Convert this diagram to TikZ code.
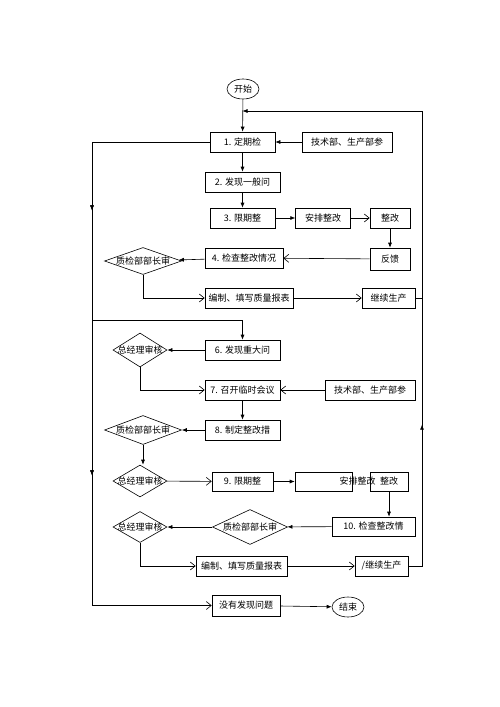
\documentclass[tikz,border=0pt]{standalone}
\usepackage{fontspec}
\newfontfamily\cjk{Noto Sans CJK SC}
\usetikzlibrary{arrows.meta,positioning,shapes.geometric,decorations.markings}
\tikzset{
    %Define standard arrow tip
    >={Latex[length=5pt,width=4pt]},
    %Define style for boxes
    box/.style={
           rectangle,
           draw=black, semithick,
           minimum height=20pt,
           inner sep=1pt},
    term/.style={
           ellipse,
           draw=black, semithick,
           minimum width=32pt,
           minimum height=20pt,
           inner sep=0pt},
    check/.style={
           diamond,
           draw=black, semithick,
           inner sep=0pt},
    % Define arrow style
    arr/.style={
           ->,
           semithick},
    openarr/.style={
           -{Straight Barb[length=5pt,width=8pt]},
           semithick},
    line/.style={
           semithick},
    midarr/.style={
           postaction={decorate},
           decoration={markings,
               mark=at position #1 with {\arrow{>}}}}
}

\begin{document}
\begin{tikzpicture}[x=1pt,y=-1pt,font=\cjk\fontsize{9}{10}\selectfont]
  \useasboundingbox (0,0) rectangle (500,707);
  % first round: general problems
  \node[term] (start) at (243,89) {开始};
  \node[box, minimum width=65pt] (chk1) at (242.5,142) {1. 定期检};
  \node[box, minimum width=90pt] (tech1) at (347,142) {技术部、生产部参};
  \node[box, minimum width=75pt] (find1) at (242.5,182) {2. 发现一般问};
  \node[box, minimum width=65pt] (lim1) at (242.5,218) {3. 限期整};
  \node[box, minimum width=55pt, right=20pt of lim1] (plan1) {安排整改};
  \node[box, minimum width=40pt] (fix1) at (390,218) {整改};
  \node[box, minimum width=40pt, minimum height=22pt] (back1) at (390,259) {反馈};
  \node[box, minimum width=78pt] (insp1) at (244,258) {4. 检查整改情况};
  \node[check, minimum width=77pt, minimum height=27pt,
        label=center:质检部部长审] (qa1) at (143,261) {};
  \node[box, minimum width=88pt] (rep1) at (249,298) {编制、填写质量报表};
  \node[box, minimum width=53pt] (go1) at (388.5,298) {继续生产};

  % second round: major problems
  \node[box, minimum width=75pt] (find2) at (242.5,350) {6. 发现重大问};
  \node[check, minimum width=54pt, minimum height=34pt,
        label=center:总经理审核] (gm1) at (140,350) {};
  \node[box, minimum width=75pt] (meet) at (242.5,390) {7. 召开临时会议};
  \node[box, minimum width=90pt] (tech2) at (370,390) {技术部、生产部参};
  \node[box, minimum width=75pt] (meas) at (242.5,430) {8. 制定整改措};
  \node[check, minimum width=77pt, minimum height=29pt,
        label=center:质检部部长审] (qa2) at (143,430) {};
  \node[check, minimum width=54pt, minimum height=32pt,
        label=center:总经理审核] (gm2) at (140,481) {};
  \node[box, minimum width=61pt, minimum height=19pt] (lim2) at (242.5,481.5) {9. 限期整};
  \node[box, minimum width=57pt, minimum height=19pt,
        label={[xshift=34pt]center:安排整改}] (plan2) at (323.5,481.5) {};
  \node[box, minimum width=38pt, minimum height=19pt] (fix2) at (389,481.5) {整改};
  \node[box, minimum width=83pt, minimum height=19pt] (insp2) at (373.5,526.5) {10. 检查整改情};
  \node[check, minimum width=75pt, minimum height=35pt,
        label=center:质检部部长审] (qa3) at (250,527) {};
  \node[check, minimum width=54pt, minimum height=31pt,
        label=center:总经理审核] (gm3) at (140,527) {};
  \node[box, minimum width=91pt] (rep2) at (241.5,566) {编制、填写质量报表};
  \node[box, minimum width=53pt] (go2) at (381.5,566) {/继续生产};

  % no problem found
  \node[box, minimum width=68pt, minimum height=21pt] (none) at (246,605.5) {没有发现问题};
  \node[term] (stop) at (348,607) {结束};

  % turning points
  \coordinate (join) at (242.5,111);
  \coordinate (rtop) at (422,111);
  \coordinate (rbot) at (422,566);
  \coordinate (lx) at (92,142);
  \coordinate (lsplit) at (92,320);

  % connectors, first round
  \draw[arr] (start) -- (chk1);
  \draw[arr] (tech1) -- (chk1);
  \draw[arr] (chk1) -- (find1);
  \draw[arr] (find1) -- (lim1);
  \draw[arr] (lim1) -- (plan1);
  \draw[openarr] (plan1) -- (fix1);
  \draw[arr] (fix1) -- (back1);
  \draw[openarr] (back1) -- (insp1);
  \draw[arr] (insp1) -- (qa1);
  \draw[openarr] (qa1.south) |- (rep1.west);
  \draw[openarr] (rep1) -- (go1);
  \draw[line] (go1.east) -- (go1.east -| rtop);

  % connectors, second round
  \draw[arr] (lsplit) -| (find2.north);
  \draw[arr] (find2) -- (gm1);
  \draw[openarr] (gm1.south) |- (meet.west);
  \draw[openarr] (tech2) -- (meet);
  \draw[arr] (meet) -- (meas);
  \draw[arr] (meas) -- (qa2);
  \draw[arr] (qa2.south) -- (qa2.south |- gm2.north);
  \draw[openarr] (gm2) -- (lim2);
  \draw[arr] (lim2) -- (plan2);
  \draw[arr] (fix2) -- (insp2.north -| fix2);
  \draw[arr] (insp2) -- (qa3);
  \draw[arr] (qa3) -- (gm3);
  \draw[openarr] (gm3.south) |- (rep2.west);
  \draw[openarr] (rep2) -- (go2);

  % loop back and left trunk
  \draw[arr, midarr=155pt] (go2.east) -- (rbot) -- (rtop) -- (join);
  \draw[openarr, midarr=186pt, midarr=451pt] (chk1.west) -- (lx) |- (none.west);
  \draw[arr] (none) -- (stop);
\end{tikzpicture}
\end{document}
